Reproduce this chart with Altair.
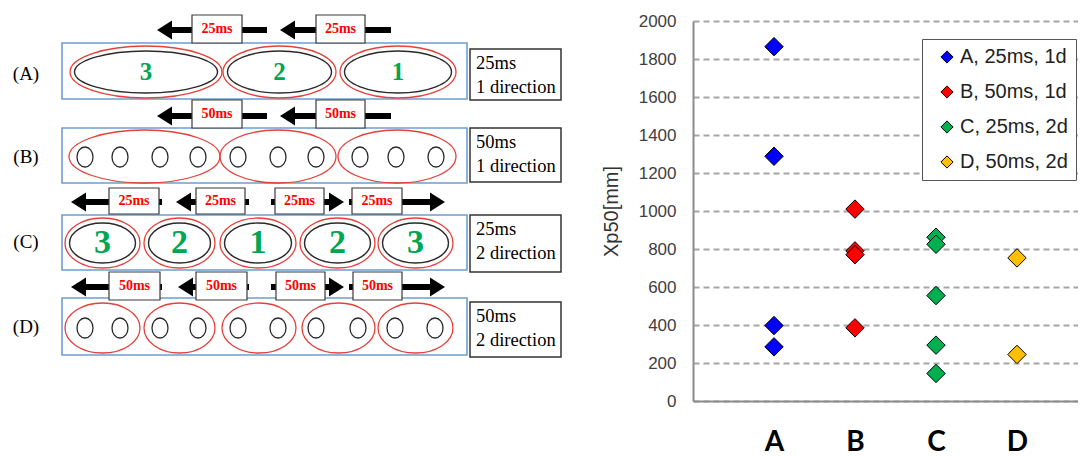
import altair as alt
import pandas as pd

# ---------------- scatter (right) ----------------
categories = ["A", "B", "C", "D"]
series_names = ["A, 25ms, 1d", "B, 50ms, 1d", "C, 25ms, 2d", "D, 50ms, 2d"]
series_colors = ["#0000FF", "#FF0000", "#00B050", "#FFC000"]
xp50_A = [1865, 1288, 397, 285]
xp50_B = [1010, 790, 770, 385]
xp50_C = [862, 825, 555, 294, 145]
xp50_D = [753, 245]
y_ticks = list(range(0, 2001, 200))

# ---------------- diagram (left), in diagram units ----------------
row_labels = ["(A)", "(B)", "(C)", "(D)"]
row_label_x = [26, 26, 26, 26]
row_label_y = [74, 157, 242, 327]
belt_left = [62, 62, 62, 62]
belt_right = [467, 467, 467, 467]
belt_top = [43, 128, 215, 298]
belt_bottom = [99, 183, 270, 355]
desc_line1 = ["25ms", "50ms", "25ms", "50ms"]
desc_line2 = ["1 direction", "1 direction", "2 direction", "2 direction"]
desc_left = [470, 470, 470, 470]
desc_right = [561, 561, 561, 561]
desc_top = [49, 128, 215, 302]
desc_bottom = [100, 182, 272, 357]

zone_row = ["A"] * 3 + ["B"] * 3 + ["C"] * 5 + ["D"] * 5
zone_cx = [146, 279.5, 398, 144.5, 278, 397,
           102.5, 179.5, 258, 337.5, 415.5,
           102.5, 179.5, 259, 338.5, 415.5]
zone_w = [152, 113, 116, 151, 116, 118, 75, 71, 76, 75, 75, 75, 71, 74, 73, 75]
zone_cy = [72] * 3 + [156.5] * 3 + [243] * 5 + [328] * 5
zone_h = [52] * 3 + [53] * 3 + [50] * 5 + [50] * 5
zone_num = ["3", "2", "1", "", "", "", "3", "2", "1", "2", "3", "", "", "", "", ""]

nozzle_x = [85, 120, 160, 198, 238, 278, 316, 360, 396, 436,
            85, 120, 160, 198, 238, 278, 316, 358, 395, 435]
nozzle_y = [157] * 10 + [328] * 10

arrow_y = [30, 30, 116, 116, 202, 202, 202, 202, 287, 287, 287, 287]
arrow_tip = [157, 280, 157, 280, 71, 176, 344, 445, 71, 178, 344, 445]
arrow_tail = [267, 391, 267, 391, 162, 249, 271, 349, 162, 249, 271, 349]

delay_text = ["25ms"] * 2 + ["50ms"] * 2 + ["25ms"] * 4 + ["50ms"] * 4
delay_x0 = [192, 316, 192, 316, 109, 196, 275, 352, 109, 196, 276, 353]
delay_x1 = [242, 365, 242, 365, 159, 245, 324, 402, 160, 247, 325, 402]
delay_y0 = [15, 15, 100, 100, 188, 188, 188, 188, 272, 272, 272, 272]
delay_y1 = [43, 43, 128, 128, 214, 214, 214, 214, 300, 300, 300, 300]

SERIF = "Liberation Serif"
SANS = "Liberation Sans"

XS = alt.Scale(domain=[8, 564], nice=False, zero=False)
YS = alt.Scale(domain=[21, 401], reverse=True, nice=False, zero=False)


def X(f):
    return alt.X(f, type="quantitative", scale=XS, axis=None)


def Y(f):
    return alt.Y(f, type="quantitative", scale=YS, axis=None)


rows_df = pd.DataFrame({
    "label": row_labels, "lx": row_label_x, "ly": row_label_y,
    "bl": belt_left, "br": belt_right, "bt": belt_top, "bb": belt_bottom,
    "l1": desc_line1, "l2": desc_line2,
    "dl": desc_left, "dr": desc_right, "dt": desc_top, "db": desc_bottom,
})
zones_df = pd.DataFrame({"row": zone_row, "cx": zone_cx, "cy": zone_cy,
                         "w": zone_w, "h": zone_h, "num": zone_num})
noz_df = pd.DataFrame({"x": nozzle_x, "y": nozzle_y})
arrow_df = pd.DataFrame({"y": arrow_y, "tip": arrow_tip, "tail": arrow_tail})
delay_df = pd.DataFrame({"t": delay_text, "x0": delay_x0, "x1": delay_x1,
                         "y0": delay_y0, "y1": delay_y1})

ELLIPSE = ("'M-1,0A1,' + (datum.h/datum.w) + ',0,0,1,1,0A1,' + (datum.h/datum.w)"
           " + ',0,0,1,-1,0Z'")

belts = alt.Chart(rows_df).mark_rect(fill="white", stroke="#6E9ED3", strokeWidth=1.6).encode(
    x=X("bl"), x2="br", y=Y("bt"), y2="bb")

zones_red = alt.Chart(zones_df).transform_calculate(
    path=ELLIPSE, sz="datum.w*datum.w"
).mark_point(filled=False, color="#E5403A", strokeWidth=1.3, opacity=1).encode(
    x=X("cx"), y=Y("cy"),
    shape=alt.Shape("path:N", scale=None),
    size=alt.Size("sz:Q", scale=None))

zones_black = alt.Chart(zones_df).transform_filter("datum.num != ''").transform_calculate(
    w="datum.w - 9", h="datum.h - 10"
).transform_calculate(
    path=ELLIPSE, sz="datum.w*datum.w"
).mark_point(filled=False, color="#2A2A2A", strokeWidth=1.4, opacity=1).encode(
    x=X("cx"), y=Y("cy"),
    shape=alt.Shape("path:N", scale=None),
    size=alt.Size("sz:Q", scale=None))

nums_A = alt.Chart(zones_df).transform_filter("datum.row == 'A'").mark_text(
    font=SERIF, fontWeight="bold", fontSize=25, color="#00A651", baseline="middle"
).encode(x=X("cx"), y=Y("cy"), text="num:N")

nums_C = alt.Chart(zones_df).transform_filter("datum.row == 'C'").mark_text(
    font=SERIF, fontWeight="bold", fontSize=34, color="#00A651", baseline="middle"
).encode(x=X("cx"), y=Y("cy"), text="num:N")

nozzles = alt.Chart(noz_df).mark_point(
    filled=False, color="#2A2A2A", strokeWidth=1.3, opacity=1,
    shape="M-1,0A1,1.25,0,0,1,1,0A1,1.25,0,0,1,-1,0Z", size=256
).encode(x=X("x"), y=Y("y"))

arrow_lines = alt.Chart(arrow_df).transform_calculate(
    start="datum.tip < datum.tail ? datum.tip + 10 : datum.tip - 10"
).mark_rule(strokeWidth=6, color="black").encode(x=X("start"), x2="tail", y=Y("y"))

HEAD_L = "M0,0L1.5,-0.95L1.5,0.95Z"
HEAD_R = "M0,0L-1.5,-0.95L-1.5,0.95Z"
arrow_heads = alt.Chart(arrow_df).transform_calculate(
    dir="datum.tip < datum.tail ? 'left' : 'right'"
).mark_point(filled=True, color="black", size=400, opacity=1).encode(
    x=X("tip"), y=Y("y"),
    shape=alt.Shape("dir:N", scale=alt.Scale(domain=["left", "right"], range=[HEAD_L, HEAD_R]),
                    legend=None))

delay_boxes = alt.Chart(delay_df).mark_rect(fill="white", stroke="#3A3A3A", strokeWidth=1.2).encode(
    x=X("x0"), x2="x1", y=Y("y0"), y2="y1")

delay_labels = alt.Chart(delay_df).transform_calculate(
    mx="(datum.x0 + datum.x1) / 2", my="(datum.y0 + datum.y1) / 2"
).mark_text(font=SERIF, fontWeight="bold", fontSize=14, color="#FF0000", baseline="middle").encode(
    x=X("mx"), y=Y("my"), text="t:N")

row_text = alt.Chart(rows_df).mark_text(font=SERIF, fontSize=19, color="black", baseline="middle").encode(
    x=X("lx"), y=Y("ly"), text="label:N")

desc_boxes = alt.Chart(rows_df).mark_rect(fill="white", stroke="#333333", strokeWidth=1.5).encode(
    x=X("dl"), x2="dr", y=Y("dt"), y2="db")

desc_text = alt.Chart(rows_df).transform_calculate(
    lines="[datum.l1, datum.l2]", tx="datum.dl + 6", ty="datum.dt + 14"
).mark_text(font=SERIF, fontSize=18.5, color="black", align="left", baseline="middle",
            lineHeight=24).encode(
    x=X("tx"), y=Y("ty"), text="lines:N")

left = alt.layer(
    belts, zones_red, zones_black, nums_A, nums_C, nozzles,
    arrow_lines, arrow_heads, delay_boxes, delay_labels,
    row_text, desc_boxes, desc_text
).properties(width=556, height=380)

# ---------------- scatter chart ----------------
cat_col, ser_col, val_col = [], [], []
for c, s, vals in zip(categories, series_names, [xp50_A, xp50_B, xp50_C, xp50_D]):
    for v in vals:
        cat_col.append(c)
        ser_col.append(s)
        val_col.append(v)
scatter_df = pd.DataFrame({"cat": cat_col, "series": ser_col, "xp50": val_col})

cat_expr = repr(categories)

right = alt.Chart(scatter_df).transform_calculate(
    pos=f"indexof({cat_expr}, datum.cat) + 1"
).mark_point(shape="diamond", filled=True, size=340, stroke="black", strokeWidth=1, opacity=1).encode(
    x=alt.X("pos:Q", title=None,
            scale=alt.Scale(domain=[0, 4.753], nice=False, zero=False),
            axis=alt.Axis(values=[1, 2, 3, 4], labelExpr=f"{cat_expr}[datum.value - 1]",
                          grid=False, ticks=False, domainColor="#8C8C8C", domainWidth=2,
                          labelFontSize=28, labelFont="Lato", labelFontWeight="bold",
                          labelColor="black", labelPadding=27, labelBaseline="top")),
    y=alt.Y("xp50:Q", title="Xp50[mm]",
            scale=alt.Scale(domain=[0, 2000], nice=False),
            axis=alt.Axis(values=y_ticks, format="d", grid=True, gridDash=[6, 4],
                          gridColor="#A6A6A6",
                          gridWidth=2, ticks=False, domainColor="#8C8C8C", domainWidth=2,
                          labelFontSize=17, labelFont=SANS, labelColor="#404040",
                          labelPadding=17, titleFont=SANS, titleFontSize=20,
                          titleFontWeight="normal", titleColor="#333333", titlePadding=17)),
    color=alt.Color("series:N", scale=alt.Scale(domain=series_names, range=series_colors),
                    legend=alt.Legend(orient="none", legendX=914, legendY=18, title=None,
                                      symbolType="diamond", symbolSize=150,
                                      symbolStrokeColor="black", symbolStrokeWidth=1,
                                      symbolOffset=7,
                                      labelFontSize=20, labelFont=SANS, labelColor="#222222",
                                      labelOffset=3, fillColor="white", strokeColor="#555555",
                                      padding=8, rowPadding=15)),
).properties(width=385, height=380)

chart = alt.hconcat(left, right, spacing=37).properties(
    padding={"left": 0, "top": 4, "right": 0, "bottom": 0}
).configure_view(stroke=None)

chart.save("out.html", embed_options={"renderer": "svg", "actions": False})
